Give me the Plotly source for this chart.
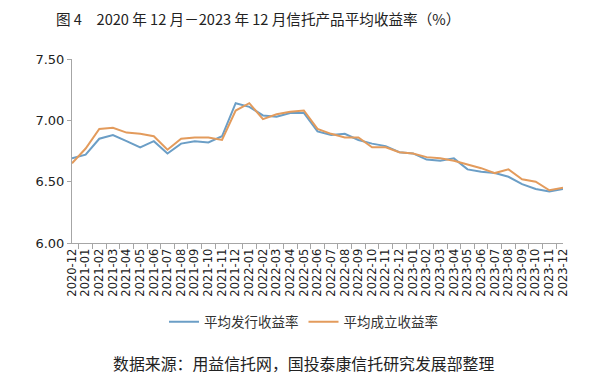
import plotly.graph_objects as go

months = [f"{y}-{m:02d}" for y, m in
          [(2020, 12)] + [(2021, mm) for mm in range(1, 13)] +
          [(2022, mm) for mm in range(1, 13)] + [(2023, mm) for mm in range(1, 13)]]

issue_yield = [6.69, 6.72, 6.85, 6.88, 6.83, 6.78, 6.83, 6.73, 6.81, 6.83, 6.82, 6.87,
               7.14, 7.11, 7.04, 7.03, 7.06, 7.06, 6.91, 6.88, 6.89, 6.84, 6.81, 6.79,
               6.74, 6.73, 6.68, 6.67, 6.69, 6.60, 6.58, 6.57, 6.54, 6.48, 6.44, 6.42, 6.44]
setup_yield = [6.65, 6.77, 6.93, 6.94, 6.90, 6.89, 6.87, 6.76, 6.85, 6.86, 6.86, 6.84,
               7.08, 7.14, 7.01, 7.05, 7.07, 7.08, 6.93, 6.89, 6.86, 6.86, 6.78, 6.78,
               6.74, 6.73, 6.70, 6.69, 6.67, 6.64, 6.61, 6.57, 6.60, 6.52, 6.50, 6.43, 6.45]

series_names = ["平均发行收益率", "平均成立收益率"]
title_text = "图 4　2020 年 12 月－2023 年 12 月信托产品平均收益率（%）"
source_text = "数据来源：用益信托网，国投泰康信托研究发展部整理"

CJK = "Noto Sans CJK SC"
axis_col = "#a6a6a6"
H = 387
# the page body has an 8px margin, so figure coords = page coords - 8
L, R, T, B = 64, 48, 51, 152
PW = 603 - L - R
PH = H - T - B


def paper_y(page_px):
    return (H - B - (page_px - 8)) / PH


def paper_x(page_px):
    return (page_px - 8 - L) / PW


fig = go.Figure()
fig.add_trace(go.Scatter(x=months, y=issue_yield, mode="lines", name=series_names[0],
                         line=dict(color="#6b9ec6", width=2)))
fig.add_trace(go.Scatter(x=months, y=setup_yield, mode="lines", name=series_names[1],
                         line=dict(color="#e39b5c", width=2)))

fig.update_layout(
    width=603, height=H,
    margin=dict(l=L, r=R, t=T, b=B, autoexpand=False),
    paper_bgcolor="white", plot_bgcolor="white",
    showlegend=True,
    legend=dict(orientation="h", x=paper_x(303.5), xanchor="center",
                yref="paper", y=paper_y(322), yanchor="middle",
                font=dict(family=CJK, size=13.5, color="#333333"),
                itemwidth=30, tracegroupgap=0),
    annotations=[
        dict(text=title_text, xref="paper", yref="paper", x=paper_x(258), y=paper_y(19),
             xanchor="center", yanchor="middle", showarrow=False,
             font=dict(family=CJK, size=14.6, color="#222222")),
        dict(text=source_text, xref="paper", yref="paper", x=paper_x(303), y=paper_y(363),
             xanchor="center", yanchor="middle", showarrow=False,
             font=dict(family=CJK, size=15.9, color="#222222")),
    ],
)
fig.update_xaxes(type="category", tickangle=-90, tickson="boundaries", automargin=False,
                 tickmode="array", tickvals=months, ticktext=months,
                 ticks="outside", ticklen=5, tickcolor=axis_col,
                 showline=True, linecolor=axis_col, linewidth=1, showgrid=False,
                 tickfont=dict(family="DejaVu Sans", size=11.5, color="#222222"))
fig.update_yaxes(range=[6.0, 7.5], dtick=0.5, tickformat=".2f", automargin=False,
                 ticks="outside", ticklen=4, tickcolor=axis_col,
                 showline=True, linecolor=axis_col, linewidth=1, showgrid=False,
                 zeroline=False,
                 tickfont=dict(family="DejaVu Sans", size=13, color="#222222"))

fig.write_html("out.html")
